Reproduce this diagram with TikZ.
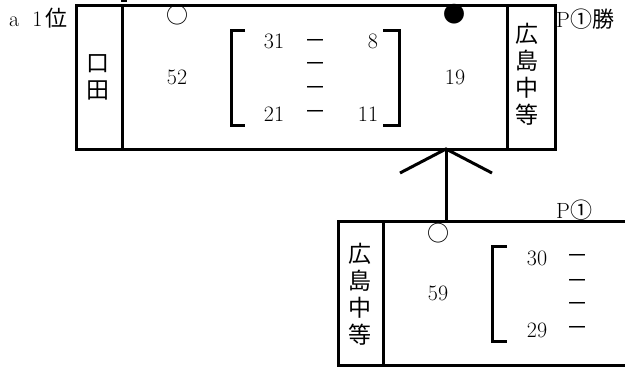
\documentclass[tikz,border=0pt]{standalone}
\usepackage{fontspec}
\newfontfamily\jp{Noto Sans CJK JP}
\usetikzlibrary{positioning}
\definecolor{ink}{HTML}{000000}
\tikzset{
  frame/.style={draw=ink, line width=3pt},
  brk/.style={draw=ink, line width=3pt},
  lab/.style={text=ink, font=\fontsize{22}{26}\selectfont, inner sep=0pt},
  jlab/.style={text=ink, font=\jp\fontsize{22}{26}\selectfont, inner sep=0pt},
  vlab/.style={text=ink, font=\jp\fontsize{23}{27}\selectfont, align=center, inner sep=0pt},
}
\begin{document}
\begin{tikzpicture}[x=1pt,y=-1pt]
  \useasboundingbox (0,0) rectangle (625,367);
  % upper game
  \coordinate (TL) at (76,5);
  \coordinate (TR) at (555,149);
  \draw[frame] (TL) rectangle (TR);
  \draw[frame] (122,5) -- (122,149);
  \draw[frame] (507,5) -- (507,149);
  \draw[line width=2pt] (121,0.8) -- (127,0.8);
  \node[lab,anchor=west] (rank) at (9,18) {a\hspace{13pt}1\hspace{3pt}{\jp\fontsize{22}{26}\selectfont 位}};
  \node[lab,anchor=west] (win) at (556,19) {P{\jp\fontsize{22}{26}\selectfont ①勝}};
  \node[vlab] (kuchida) at (98,77) {口\\田};
  \node[vlab] (hiro) at (527,74) {広\\島\\中\\等};
  \node[jlab] (mkA) at (177,15) {○};
  \node[jlab] (mkB) at (454,14) {●};
  \node[lab] (sA) at (177,77) {52};
  \node[lab] (sB) at (455,77) {19};
  \draw[brk] (245,30) -- (231,30) -- (231,125) -- (245,125);
  \draw[brk] (383,30) -- (399,30) -- (399,125) -- (383,125);
  \node[lab] (qA1) at (274,41) {31};
  \node[lab] (qA4) at (274,114) {21};
  \node[lab] (qB1) at (373,41) {8};
  \node[lab] (qB4) at (368,114) {11};
  \foreach \y in {42,65,89,113}
    \node[jlab] at (315,\y+2) {－};
  % link
  \coordinate (up) at (446,149);
  \coordinate (dn) at (446,221);
  \coordinate (vl) at (400,173);
  \coordinate (vr) at (492,173);
  \draw[frame] (dn) -- (up);
  \draw[frame] (vl) -- (up) -- (vr);
  % lower game
  \draw[frame] (626,221) -- (338,221) -- (338,365) -- (626,365);
  \draw[frame] (383,221) -- (383,365);
  \node[lab,anchor=west] (pone) at (556,210) {P{\jp\fontsize{22}{26}\selectfont ①}};
  \node[vlab] (hiro2) at (360,294) {広\\島\\中\\等};
  \node[jlab] (mkC) at (438,233) {○};
  \node[lab] (sC) at (438,293) {59};
  \draw[brk] (507,246) -- (492,246) -- (492,341) -- (507,341);
  \node[lab] (qC1) at (537,258) {30};
  \node[lab] (qC4) at (537,330) {29};
  \foreach \y in {257,282,305,329}
    \node[jlab] at (577,\y+2) {－};
\end{tikzpicture}
\end{document}
